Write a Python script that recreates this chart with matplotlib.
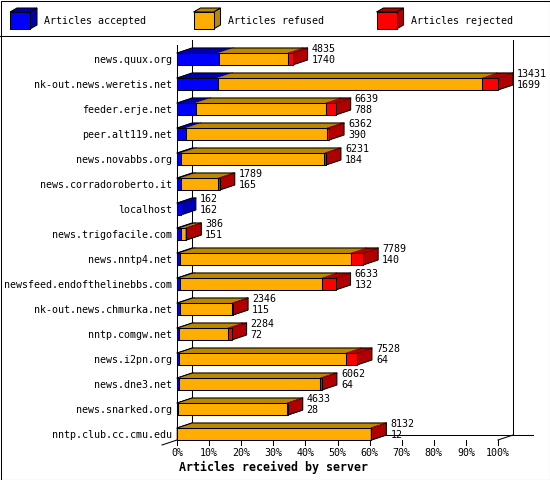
import numpy as np
import matplotlib
matplotlib.use("Agg")
import matplotlib.pyplot as plt
from matplotlib.patches import Polygon, Rectangle

# ---------------- data ----------------
servers = ["news.quux.org", "nk-out.news.weretis.net", "feeder.erje.net",
           "peer.alt119.net", "news.novabbs.org", "news.corradoroberto.it",
           "localhost", "news.trigofacile.com", "news.nntp4.net",
           "newsfeed.endofthelinebbs.com", "nk-out.news.chmurka.net",
           "nntp.comgw.net", "news.i2pn.org", "news.dne3.net",
           "news.snarked.org", "nntp.club.cc.cmu.edu"]
total = [4835, 13431, 6639, 6362, 6231, 1789, 162, 386, 7789, 6633,
         2346, 2284, 7528, 6062, 4633, 8132]
accepted = [1740, 1699, 788, 390, 184, 165, 162, 151, 140, 132,
            115, 72, 64, 64, 28, 12]
rejected = [200, 670, 420, 90, 60, 60, 0, 10, 500, 580,
            30, 170, 460, 80, 10, 10]
series_names = ["Articles accepted", "Articles refused", "Articles rejected"]
tick_values = [0, 10, 20, 30, 40, 50, 60, 70, 80, 90, 100]
xlabel = "Articles received by server"

refused = [t - a - r for t, a, r in zip(total, accepted, rejected)]
series = [accepted, refused, rejected]
front_cols = ["#0000ff", "#ffae00", "#ff0000"]
shade_cols = ["#0000b0", "#bb8800", "#b00000"]

# ---------------- layout ----------------
W, H = 550, 480
fig = plt.figure(figsize=(W / 100, H / 100), dpi=100)
fig.patch.set_facecolor("white")

x0px, x100px = 177, 498
ppx = (x100px - x0px) / 100.0
row0px, rowstep = 59, 25

ax = fig.add_axes([0, 0, 1, 1])
ax.set_xlim(-x0px / ppx, (W - x0px) / ppx)
ax.set_ylim((H - row0px) / rowstep, -row0px / rowstep)
ax.axis("off")

DX = 15 / ppx          # depth in x (percent units)
DY = 5 / rowstep       # depth in y (row units)
HH = 6 / rowstep       # half height of front face
LW = 0.75
MONO = "DejaVu Sans Mono"
FS = 7.2

n = len(servers)
vmax = max(total)
y_floor = (n - 1) + HH
y_top_front = (45 - row0px) / rowstep
y_top_back = (40 - row0px) / rowstep

# back wall / axes lines
ax.plot([DX, DX], [y_top_back, y_floor - DY], color="black", lw=LW, zorder=1)
ax.plot([100 + DX, 100 + DX], [y_top_back, y_floor - DY], color="black", lw=LW, zorder=1)
ax.plot([DX, 100 + DX + 20 / ppx], [y_floor - DY, y_floor - DY], color="black", lw=LW, zorder=1)
ax.plot([100, 100 + DX], [y_floor, y_floor - DY], color="black", lw=LW, zorder=1)
ax.plot([-DX, DX], [y_floor + DY, y_floor - DY], color="black", lw=LW, zorder=1)
ax.plot([0, 0], [y_top_front, y_floor], color="black", lw=LW, zorder=1)

# ticks
for t in tick_values:
    ax.plot([t, t], [y_floor, y_floor + DY], color="black", lw=LW, zorder=1)
    ax.text(t, y_floor + (453 - 440) / rowstep, f"{t}%", ha="center", va="center",
            family=MONO, fontsize=FS)
ax.text(0.6, y_floor + (467 - 440) / rowstep, xlabel, ha="left", va="center",
        family=MONO, fontsize=8.4, fontweight="bold")

# bars
for i in range(n):
    yt, yb = i - HH, i + HH
    start = 0.0
    z = 2 + i * 0.01
    last_shade = None
    for s in range(3):
        w = series[s][i] / vmax * 100
        if w <= 0:
            continue
        x1 = start + w
        zz = z + s * 0.001
        # side face
        ax.add_patch(Polygon([(x1, yt), (x1 + DX, yt - DY), (x1 + DX, yb - DY), (x1, yb)],
                             closed=True, facecolor=shade_cols[s], edgecolor="black",
                             lw=LW, zorder=zz))
        # top face
        ax.add_patch(Polygon([(start, yt), (x1, yt), (x1 + DX, yt - DY), (start + DX, yt - DY)],
                             closed=True, facecolor=shade_cols[s], edgecolor=shade_cols[s],
                             lw=0.3, zorder=zz + 0.0002))
        # front face
        ax.add_patch(Rectangle((start, yt), w, 2 * HH, facecolor=front_cols[s],
                               edgecolor="black", lw=LW, zorder=zz + 0.0004))
        start = x1
    end = total[i] / vmax * 100
    # top outline
    ax.plot([0, DX, end + DX], [yt, yt - DY, yt - DY], color="black", lw=LW, zorder=z + 0.005)
    # labels
    ax.text(-5 / ppx, i + 0.04, servers[i], ha="right", va="center", family=MONO, fontsize=FS)
    ax.text(end + DX + 4 / ppx, i - 0.39, str(total[i]), ha="left", va="center",
            family=MONO, fontsize=FS, zorder=5)
    ax.text(end + DX + 4 / ppx, i + 0.05, str(accepted[i]), ha="left", va="center",
            family=MONO, fontsize=FS, zorder=5)

# ---------------- legend & frame (pixel axes) ----------------
lg = fig.add_axes([0, 0, 1, 1], facecolor="none")
lg.set_xlim(0, W)
lg.set_ylim(H, 0)
lg.axis("off")
lg.add_patch(Rectangle((0.5, 0.5), W - 1, H - 1, fill=False, edgecolor="black", lw=LW))
lg.plot([0, W], [35.5, 35.5], color="black", lw=LW)
for s, bx in enumerate([10, 193.5, 376.5]):
    fx0, fx1, fy0, fy1 = bx, bx + 20, 12, 29
    dx, dy = 7, 4
    lg.add_patch(Polygon([(fx1, fy0), (fx1 + dx, fy0 - dy), (fx1 + dx, fy1 - dy), (fx1, fy1)],
                         closed=True, facecolor=shade_cols[s], edgecolor="black", lw=LW))
    lg.add_patch(Polygon([(fx0, fy0), (fx1, fy0), (fx1 + dx, fy0 - dy), (fx0 + dx, fy0 - dy)],
                         closed=True, facecolor=shade_cols[s], edgecolor="black", lw=LW))
    lg.add_patch(Rectangle((fx0, fy0), 20, 17, facecolor=front_cols[s], edgecolor="black", lw=LW))
    lg.text(bx + 34.5, 20.5, series_names[s], ha="left", va="center", family=MONO, fontsize=FS)

fig.savefig("out.png", dpi=100)
